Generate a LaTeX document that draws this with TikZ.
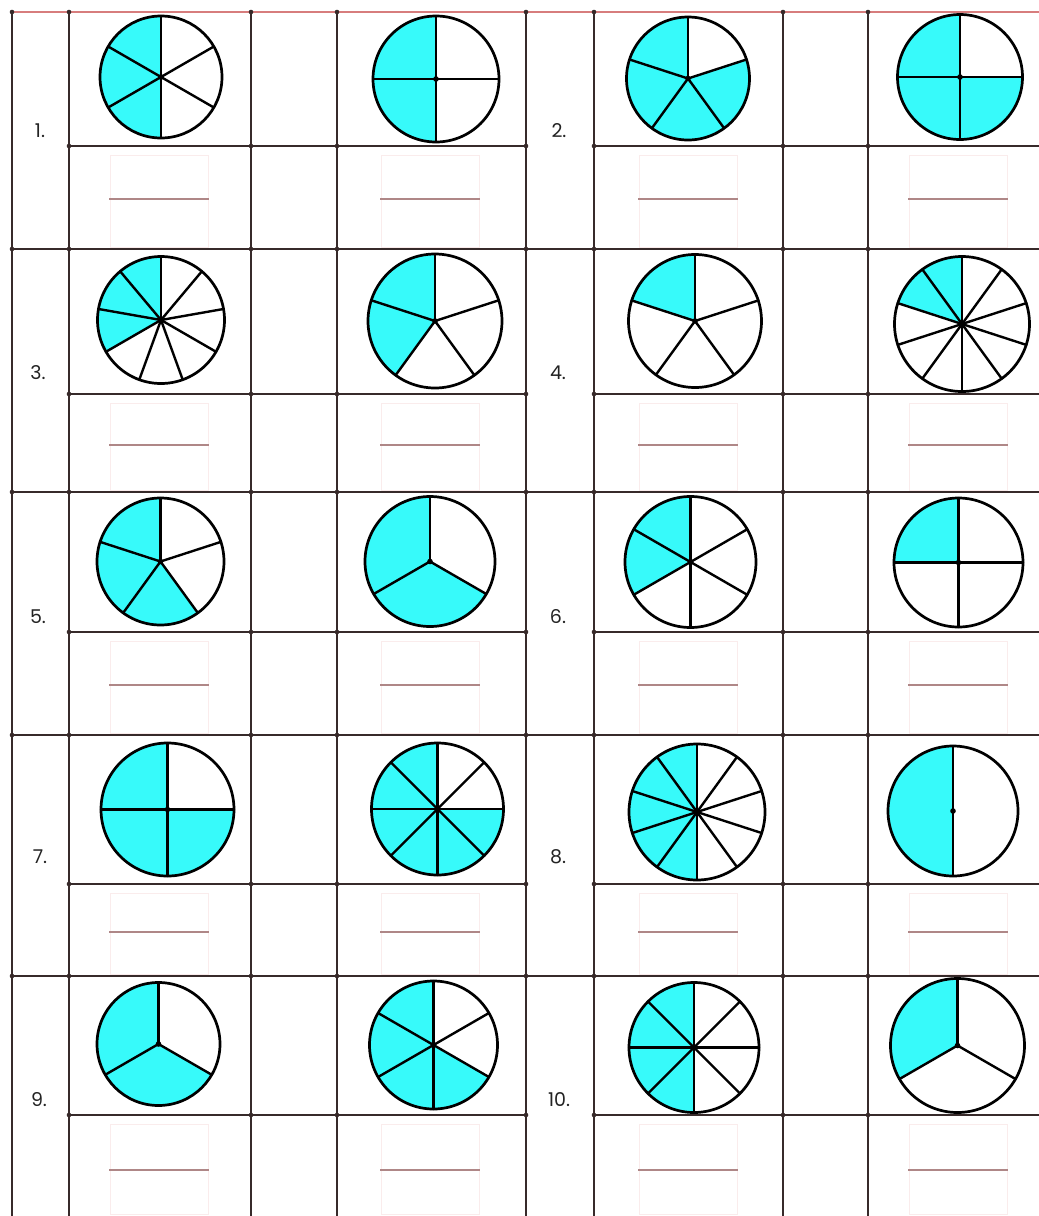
\documentclass[tikz,border=0pt]{standalone}
\usepackage{fontspec}
\setmainfont{Poppins}
\definecolor{cyanfill}{RGB}{55,250,250}
\definecolor{gridc}{RGB}{55,42,42}
\definecolor{topc}{RGB}{215,125,125}
\definecolor{fracc}{RGB}{175,135,135}
\definecolor{boxc}{RGB}{250,236,236}
\definecolor{lblc}{RGB}{35,35,35}
\tikzset{
  gridline/.style={draw=gridc, line width=1.6pt},
  topline/.style={draw=topc, line width=2.4pt},
  spoke/.style={draw=black, line width=2.4pt, line cap=round},
  rim/.style={draw=black, line width=2.7pt},
  fracline/.style={draw=fracc, line width=1.1pt},
  faintbox/.style={draw=boxc, line width=0.7pt},
  lbl/.style={text=lblc, font=\fontsize{19}{22}\selectfont, inner sep=0pt},
  jdot/.style={fill=gridc}
}
\newcommand\drawpie[6]{%
  \begin{scope}[shift={(#2,-#3)}]
    \coordinate (#1) at (0,0);
    \fill[cyanfill] (0,0) -- (90:#4) arc[start angle=90, delta angle={360*#6/#5}, radius=#4] -- cycle;
    \foreach \i in {1,...,#5} \draw[spoke] (0,0) -- ({90+360*(\i-1)/#5}:#4);
    \draw[rim] (0,0) circle[radius=#4];
    \fill (0,0) circle[radius=2.8];
  \end{scope}}
\begin{document}
\begin{tikzpicture}[x=1pt, y=1pt]
\useasboundingbox (0,0) rectangle (1039,-1216);
\fill[white] (0,0) rectangle (1039,-1216);

% answer areas
\foreach \m/\e/\f in {146/249/199, 394/492/445, 632/735/685, 884/976/932, 1115/1216/1170} {
  \foreach \c in {159,430,688,958} {
    \draw[faintbox] ({\c-49},{-\m-9}) rectangle ({\c+49},{-\e+2});
    \draw[fracline] ({\c-50},-\f) -- ({\c+50},-\f);
  }
}

% grid
\foreach \x in {12,69,251,337,526,594,783,868} \draw[gridline] (\x,-12) -- (\x,-1216);
\foreach \y in {249,492,735,976} \draw[gridline] (12,-\y) -- (1039,-\y);
\foreach \y in {146,394,632,884,1115} {
  \draw[gridline] (69,-\y) -- (526,-\y);
  \draw[gridline] (594,-\y) -- (1039,-\y);
}
\draw[topline] (12,-12) -- (1039,-12);
\foreach \y in {12,249,492,735,976}
  \foreach \x in {12,69,251,337,526,594,783,868} \fill[jdot] (\x,-\y) circle[radius=2.3];
\foreach \y in {146,394,632,884,1115}
  \foreach \x in {69,251,337,526,594,783,868} \fill[jdot] (\x,-\y) circle[radius=2.3];

% pies
\drawpie{p1a}{161}{77}{61}{6}{3}
\drawpie{p1b}{436}{79}{63}{4}{2}
\drawpie{p2a}{688}{78.5}{61.5}{5}{4}
\drawpie{p2b}{960}{77}{62.5}{4}{3}
\drawpie{p3a}{161}{320}{63.5}{9}{3}
\drawpie{p3b}{435}{321}{67}{5}{2}
\drawpie{p4a}{695}{321}{66.5}{5}{1}
\drawpie{p4b}{962}{324}{67.5}{10}{2}
\drawpie{p5a}{160.5}{561.5}{63.5}{5}{3}
\drawpie{p5b}{430}{561.5}{65}{3}{2}
\drawpie{p6a}{690.5}{562}{65.5}{6}{2}
\drawpie{p6b}{958.5}{562.5}{64.5}{4}{1}
\drawpie{p7a}{167.5}{809.5}{66.5}{4}{3}
\drawpie{p7b}{437.5}{809}{66}{8}{6}
\drawpie{p8a}{697}{812}{68}{10}{5}
\drawpie{p8b}{953}{811}{65}{2}{1}
\drawpie{p9a}{158.5}{1044}{61.5}{3}{2}
\drawpie{p9b}{433.5}{1045}{64}{6}{4}
\drawpie{p10a}{694}{1047.5}{65}{8}{4}
\drawpie{p10b}{957.5}{1045.5}{67}{3}{1}

% labels
\node[lbl] (n1) at (40,-131) {1.};
\node[lbl] (n2) at (559,-131) {2.};
\node[lbl] (n3) at (38,-373) {3.};
\node[lbl] (n4) at (558,-373) {4.};
\node[lbl] (n5) at (38,-617) {5.};
\node[lbl] (n6) at (558,-617) {6.};
\node[lbl] (n7) at (40,-857) {7.};
\node[lbl] (n8) at (558,-857) {8.};
\node[lbl] (n9) at (39,-1100) {9.};
\node[lbl] (n10) at (559,-1100) {10.};
\end{tikzpicture}
\end{document}
